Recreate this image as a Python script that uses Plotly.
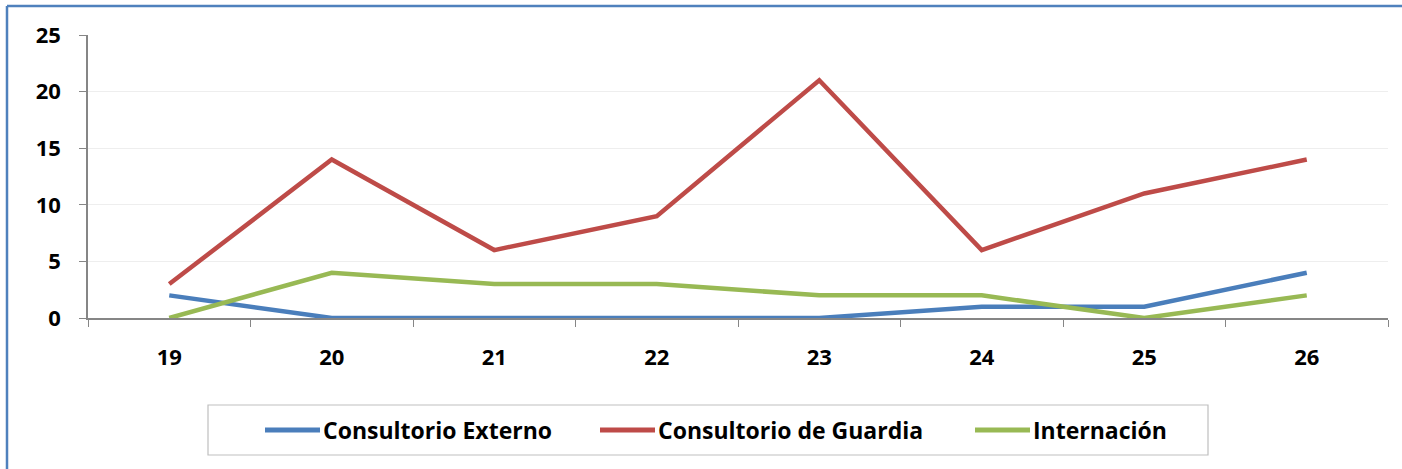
import plotly.graph_objects as go

categories = ["19", "20", "21", "22", "23", "24", "25", "26"]
externo = [2, 0, 0, 0, 0, 1, 1, 4]
guardia = [3, 14, 6, 9, 21, 6, 11, 14]
internacion = [0, 4, 3, 3, 2, 2, 0, 2]
series_names = ["Consultorio Externo", "Consultorio de Guardia", "Internación"]
y_ticks = [0, 5, 10, 15, 20, 25]

colors = ["#4a7ebb", "#be4b48", "#98b954"]
FONT = "Open Sans, Arial"

fig = go.Figure()
for name, vals, c in zip(series_names, [externo, guardia, internacion], colors):
    fig.add_trace(go.Scatter(x=categories, y=vals, mode="lines", name=name,
                             line=dict(color=c, width=4.5), showlegend=False))

W, H = 1402, 469
ml, mr, mt, mb = 88, 14, 35, 151
pw, ph = W - ml - mr, H - mt - mb


def px(x):
    return (x - ml) / pw


def py(y):
    return (mt + ph - y) / ph


fig.update_layout(
    width=W, height=H,
    margin=dict(l=ml, r=mr, t=mt, b=mb, autoexpand=False),
    paper_bgcolor="white", plot_bgcolor="white",
    font=dict(family=FONT, size=22, color="black"),
    showlegend=False,
    xaxis=dict(type="category", range=[-0.5, 7.5], tickson="boundaries",
               ticks="outside", ticklen=7, tickcolor="#868686",
               showline=True, linecolor="#868686", linewidth=1.5,
               showgrid=False, zeroline=False,
               tickfont=dict(family=FONT, size=22, weight="bold"),
               ticklabelstandoff=19),
    yaxis=dict(range=[0, 25], tickvals=y_ticks, ticks="outside", ticklen=7,
               tickcolor="#868686", showline=True, linecolor="#868686", linewidth=1.5,
               showgrid=True, gridcolor="#eeeeee", gridwidth=1, zeroline=False,
               tickfont=dict(family=FONT, size=22, weight="bold"),
               ticklabelstandoff=14),
)

# outer chart border (blue): top and left edges visible
border = dict(color="#4f81bd", width=2.5)
fig.add_shape(type="line", xref="paper", yref="paper",
              x0=px(7), x1=px(W + 30), y0=py(6), y1=py(6), line=border, layer="below")
fig.add_shape(type="line", xref="paper", yref="paper",
              x0=px(7), x1=px(7), y0=py(6), y1=py(H + 30), line=border, layer="below")

# legend box and entries
fig.add_shape(type="rect", xref="paper", yref="paper",
              x0=px(208), x1=px(1208), y0=py(455), y1=py(405),
              line=dict(color="#bfbfbf", width=1.2), fillcolor="white")
legend_x = [265, 600, 975]
for name, c, lx in zip(series_names, colors, legend_x):
    fig.add_shape(type="line", xref="paper", yref="paper",
                  x0=px(lx), x1=px(lx + 55), y0=py(430), y1=py(430),
                  line=dict(color=c, width=5))
    fig.add_annotation(xref="paper", yref="paper", x=px(lx + 56), y=py(430),
                       xanchor="left", yanchor="middle", showarrow=False,
                       text=name, font=dict(family=FONT, size=23, weight="bold",
                                            color="black"))

fig.write_html("out.html", config={"displayModeBar": False},
               post_script="document.body.style.margin='0';"
                           "document.body.style.overflow='hidden';"
                           "document.documentElement.style.overflow='hidden';")
